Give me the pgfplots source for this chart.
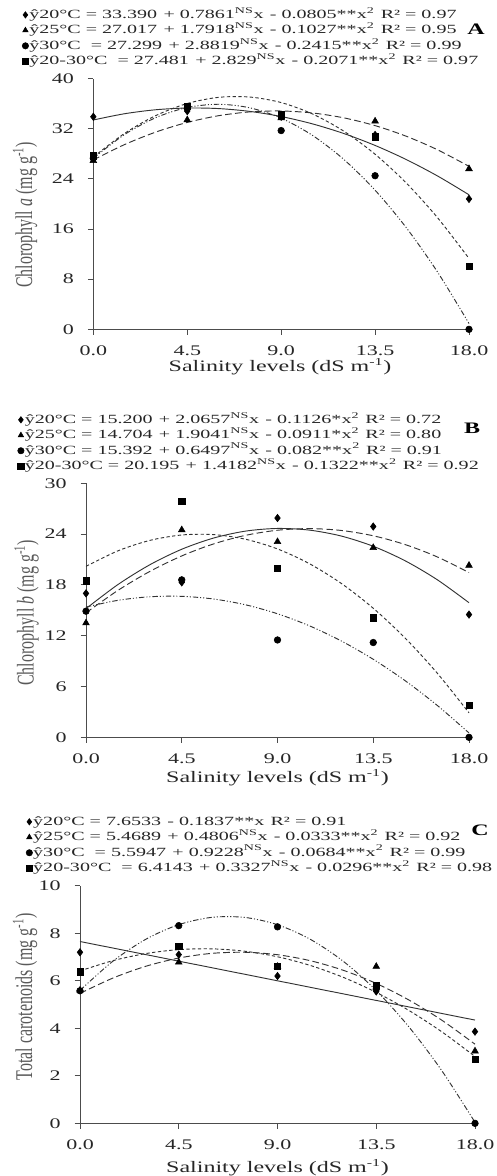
\documentclass[border=0pt]{standalone}
\usepackage{fontspec}
\setmainfont{Liberation Serif}[FakeStretch=1.5]
\newfontfamily\plainserif{Liberation Serif}
\newfontfamily\eqfont{Liberation Serif}[FakeStretch=1.6]
\usepackage{graphicx}
\usepackage{pgfplots}
\pgfplotsset{compat=1.18}
\newcommand{\eqsp}{\hspace{0.5em}}
\newcommand{\ylab}[1]{\scalebox{1}[1.5]{\plainserif\fontsize{12}{14}\selectfont #1}}
\pgfplotsset{
  panel/.style={
    scale only axis, clip=false,
    axis lines=left, axis line style={-, draw=black!70, line width=0.7pt},
    tick align=outside, major tick length=4pt,
    tick style={draw=black!70, line width=0.7pt},
    xmin=0, xmax=18, xtick={0,4.5,9,13.5,18},
    xticklabels={0.0,4.5,9.0,13.5,18.0},
    /pgf/number format/assume math mode=true,
    ticklabel style={font=\fontsize{11}{13}\selectfont, text=black!85},
    xticklabel style={yshift=-5pt},
    yticklabel style={xshift=-7pt},
    xlabel={Salinity levels (dS m\textsuperscript{-1})},
    xlabel style={font=\fontsize{12}{14}\selectfont, text=black!85, anchor=center},
    ylabel style={text=black!65, anchor=center},
    legend cell align=left,
    legend image code/.code={\draw[##1, mark size=2.4pt] plot coordinates {(0pt,0pt)};},
    legend style={draw=none, fill=none, anchor=north west, inner sep=0pt,
      font=\eqfont\fontsize{9.4}{11}\selectfont, text=black!85, row sep=0.6pt,
      nodes={inner sep=0.5pt, text height=7.5pt, text depth=2.5pt},
      /tikz/every even column/.append style={column sep=0pt}},
  },
  c20/.style={no marks, smooth, black!80, line width=0.7pt, forget plot},
  c25/.style={no marks, smooth, black!80, line width=0.7pt, dash pattern=on 5pt off 2.5pt, forget plot},
  c30/.style={no marks, smooth, black!80, line width=0.7pt, dash pattern=on 4pt off 1.5pt on 0.8pt off 1.5pt on 0.8pt off 1.5pt, forget plot},
  c2030/.style={no marks, smooth, black!80, line width=0.7pt, dash pattern=on 2.5pt off 1.8pt, forget plot},
  m20/.style={only marks, black, mark=diamond*, mark size=2.8pt, mark options={fill=black, draw=black}},
  m25/.style={only marks, black, mark=triangle*, mark size=2.9pt, mark options={fill=black, draw=black}},
  m30/.style={only marks, black, mark=*, mark size=2.5pt, mark options={fill=black, draw=black}},
  m2030/.style={only marks, black, mark=square*, mark size=2.4pt, mark options={fill=black, draw=black}},
}
\begin{document}
\begin{tikzpicture}
\useasboundingbox (0,0) rectangle (372pt,-882pt);

% ---------------- Panel A ----------------
\begin{axis}[panel, at={(70pt,-247pt)}, anchor=south west,
  width=281.75pt, height=188.1pt,
  ymin=0, ymax=40, ytick={0,8,16,24,32,40},
  ylabel={\ylab{Chlorophyll \textit{a} (mg g\textsuperscript{-1})}},
  ylabel style={at={(axis description cs:-0.182,0.456)}},
  xlabel style={at={(axis description cs:0.497,-0.150)}},
  legend style={at={(axis description cs:-0.190,1.284)}},
]
\addplot[c20] coordinates {(0,33.390) (1.5,34.388) (3,35.024) (4.5,35.297) (6,35.209) (7.5,34.758) (9,33.944) (10.5,32.769) (12,31.231) (13.5,29.331) (15,27.069) (16.5,24.445) (18,21.458)};
\addplot[c25] coordinates {(0,27.017) (1.5,29.474) (3,31.468) (4.5,33.000) (6,34.071) (7.5,34.679) (9,34.825) (10.5,34.508) (12,33.730) (13.5,32.489) (15,30.787) (16.5,28.622) (18,25.995)};
\addplot[c30] coordinates {(0,27.299) (1.5,31.079) (3,33.771) (4.5,35.377) (6,35.896) (7.5,35.329) (9,33.675) (10.5,30.934) (12,27.106) (13.5,22.191) (15,16.190) (16.5,9.102) (18,0.927)};
\addplot[c2030] coordinates {(0,27.481) (1.5,31.259) (3,34.104) (4.5,36.018) (6,36.999) (7.5,37.049) (9,36.167) (10.5,34.353) (12,31.607) (13.5,27.929) (15,23.319) (16.5,17.777) (18,11.303)};
\addplot[m20] coordinates {(0,33.9) (4.5,34.8) (9,33.9) (13.5,31.0) (18,20.8)};
\addlegendentry{ŷ20°C = 33.390\eqsp+ 0.7861\textsuperscript{NS}x\eqsp- 0.0805**x\textsuperscript{2}\eqsp R² = 0.97}
\addplot[m25] coordinates {(0,26.9) (4.5,33.4) (9,33.7) (13.5,33.2) (18,25.6)};
\addlegendentry{ŷ25°C = 27.017\eqsp+ 1.7918\textsuperscript{NS}x\eqsp- 0.1027**x\textsuperscript{2}\eqsp R² = 0.95}
\addplot[m30] coordinates {(0,27.3) (4.5,35.2) (9,31.7) (13.5,24.5) (18,0)};
\addlegendentry{ŷ30°C\ \ = 27.299\eqsp+ 2.8819\textsuperscript{NS}x\eqsp- 0.2415**x\textsuperscript{2}\eqsp R² = 0.99}
\addplot[m2030] coordinates {(0,27.7) (4.5,35.6) (9,34.2) (13.5,30.7) (18,10.1)};
\addlegendentry{ŷ20-30°C\ \ = 27.481\eqsp+ 2.829\textsuperscript{NS}x\eqsp- 0.2071**x\textsuperscript{2}\eqsp R² = 0.97}
\end{axis}
\node[font=\bfseries\fontsize{12}{14}\selectfont] at (357pt,-22pt) {A};

% ---------------- Panel B ----------------
\begin{axis}[panel, at={(64.5pt,-553pt)}, anchor=south west,
  width=287.25pt, height=190.5pt,
  ymin=0, ymax=30, ytick={0,6,12,18,24,30},
  ylabel={\ylab{Chlorophyll \textit{b} (mg g\textsuperscript{-1})}},
  ylabel style={at={(axis description cs:-0.155,0.49)}},
  xlabel style={at={(axis description cs:0.5,-0.158)}},
  legend style={at={(axis description cs:-0.179,1.280)}},
]
\addplot[c20] coordinates {(0,15.200) (1.5,18.045) (3,20.384) (4.5,22.216) (6,23.541) (7.5,24.359) (9,24.671) (10.5,24.476) (12,23.774) (13.5,22.566) (15,20.851) (16.5,18.629) (18,15.900)};
\addplot[c25] coordinates {(0,14.704) (1.5,17.355) (3,19.596) (4.5,21.428) (6,22.849) (7.5,23.860) (9,24.462) (10.5,24.653) (12,24.435) (13.5,23.806) (15,22.768) (16.5,21.320) (18,19.461)};
\addplot[c30] coordinates {(0,15.392) (1.5,16.182) (3,16.603) (4.5,16.655) (6,16.338) (7.5,15.652) (9,14.597) (10.5,13.173) (12,11.380) (13.5,9.219) (15,6.688) (16.5,3.788) (18,0.519)};
\addplot[c2030] coordinates {(0,20.195) (1.5,22.025) (3,23.260) (4.5,23.900) (6,23.945) (7.5,23.395) (9,22.251) (10.5,20.511) (12,18.177) (13.5,15.247) (15,11.723) (16.5,7.604) (18,2.890)};
\addplot[m20] coordinates {(0,17.0) (4.5,18.3) (9,25.9) (13.5,24.9) (18,14.5)};
\addlegendentry{ŷ20°C = 15.200\eqsp+ 2.0657\textsuperscript{NS}x\eqsp- 0.1126*x\textsuperscript{2}\eqsp R² = 0.72}
\addplot[m25] coordinates {(0,13.5) (4.5,24.5) (9,23.1) (13.5,22.4) (18,20.3)};
\addlegendentry{ŷ25°C = 14.704\eqsp+ 1.9041\textsuperscript{NS}x\eqsp- 0.0911*x\textsuperscript{2}\eqsp R² = 0.80}
\addplot[m30] coordinates {(0,14.9) (4.5,18.6) (9,11.5) (13.5,11.2) (18,0)};
\addlegendentry{ŷ30°C = 15.392\eqsp+ 0.6497\textsuperscript{NS}x\eqsp- 0.082**x\textsuperscript{2}\eqsp R² = 0.91}
\addplot[m2030] coordinates {(0,18.5) (4.5,27.9) (9,20.0) (13.5,14.1) (18,3.8)};
\addlegendentry{ŷ20-30°C = 20.195\eqsp+ 1.4182\textsuperscript{NS}x\eqsp- 0.1322**x\textsuperscript{2}\eqsp R² = 0.92}
\end{axis}
\node[font=\bfseries\fontsize{12}{14}\selectfont] at (354pt,-321pt) {B};

% ---------------- Panel C ----------------
\begin{axis}[panel, at={(60pt,-842.5pt)}, anchor=south west,
  width=296.25pt, height=178.2pt,
  ymin=0, ymax=10, ytick={0,2,4,6,8,10},
  ylabel={\ylab{Total carotenoids (mg g\textsuperscript{-1})}},
  ylabel style={at={(axis description cs:-0.139,0.532)}},
  xlabel style={at={(axis description cs:0.5,-0.188)}},
  legend style={at={(axis description cs:-0.137,1.301)}},
]
\addplot[c20] coordinates {(0,7.6533) (18,4.3467)};
\addplot[c25] coordinates {(0,5.469) (1.5,6.115) (3,6.611) (4.5,6.957) (6,7.154) (7.5,7.200) (9,7.097) (10.5,6.844) (12,6.441) (13.5,5.888) (15,5.185) (16.5,4.333) (18,3.331)};
\addplot[c30] coordinates {(0,5.595) (1.5,6.825) (3,7.748) (4.5,8.362) (6,8.669) (7.5,8.668) (9,8.360) (10.5,7.743) (12,6.819) (13.5,5.587) (15,4.047) (16.5,2.199) (18,0.044)};
\addplot[c2030] coordinates {(0,6.414) (1.5,6.847) (3,7.146) (4.5,7.312) (6,7.345) (7.5,7.245) (9,7.011) (10.5,6.644) (12,6.144) (13.5,5.511) (15,4.745) (16.5,3.845) (18,2.813)};
\addplot[m20] coordinates {(0,7.2) (4.5,7.1) (9,6.2) (13.5,5.55) (18,3.86)};
\addlegendentry{ŷ20°C = 7.6533\eqsp- 0.1837**x\eqsp R² = 0.91}
\addplot[m25] coordinates {(0,5.6) (4.5,6.78) (9,6.6) (13.5,6.6) (18,3.04)};
\addlegendentry{ŷ25°C = 5.4689\eqsp+ 0.4806\textsuperscript{NS}x\eqsp- 0.0333**x\textsuperscript{2}\eqsp R² = 0.92}
\addplot[m30] coordinates {(0,5.58) (4.5,8.32) (9,8.27) (13.5,5.65) (18,0)};
\addlegendentry{ŷ30°C\ \ = 5.5947\eqsp+ 0.9228\textsuperscript{NS}x\eqsp- 0.0684**x\textsuperscript{2}\eqsp R² = 0.99}
\addplot[m2030] coordinates {(0,6.38) (4.5,7.46) (9,6.6) (13.5,5.8) (18,2.7)};
\addlegendentry{ŷ20-30°C\ \ = 6.4143\eqsp+ 0.3327\textsuperscript{NS}x\eqsp- 0.0296**x\textsuperscript{2}\eqsp R² = 0.98}
\end{axis}
\node[font=\bfseries\fontsize{12}{14}\selectfont] at (360pt,-623pt) {C};
\end{tikzpicture}
\end{document}
